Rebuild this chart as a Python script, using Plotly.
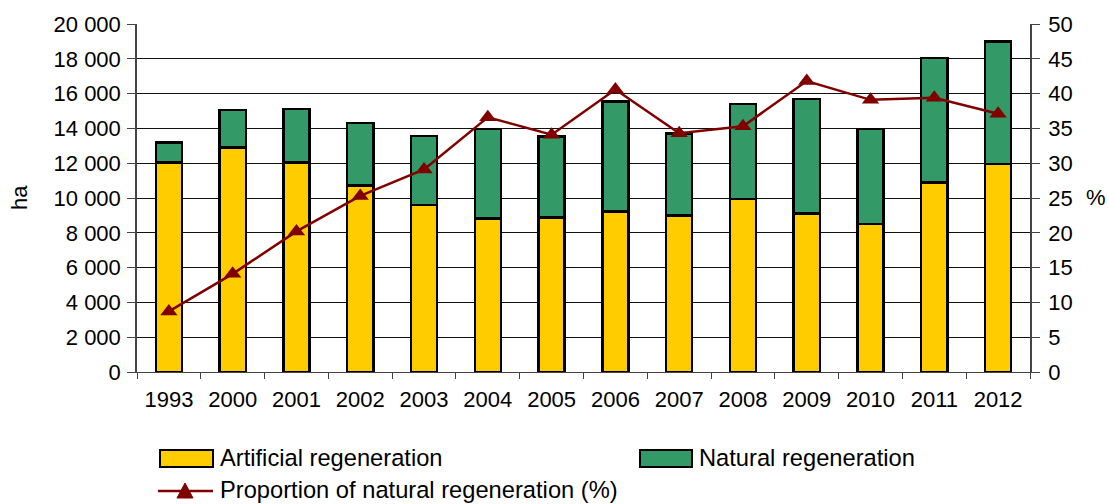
import plotly.graph_objects as go

# Regeneration area by year (ha) and share of natural regeneration (%)
years = ["1993", "2000", "2001", "2002", "2003", "2004", "2005",
         "2006", "2007", "2008", "2009", "2010", "2011", "2012"]
artificial = [12030, 12910, 12030, 10710, 9600, 8830, 8890,
              9220, 8990, 9960, 9120, 8510, 10900, 11940]
natural = [1170, 2150, 3070, 3600, 3960, 5120, 4640,
           6320, 4710, 5440, 6570, 5460, 7130, 7060]
natural_share = [8.7, 14.1, 20.2, 25.3, 29.1, 36.6, 34.1,
                 40.6, 34.3, 35.3, 41.8, 39.1, 39.4, 37.1]

ha_ticks = list(range(0, 20001, 2000))
pct_ticks = list(range(0, 51, 5))

YELLOW = "#FFCC00"
GREEN = "#339966"
MAROON = "#800000"
FONT = "Liberation Sans, Arial, sans-serif"
TICK_SIZE = 22
LEGEND_SIZE = 23.7

fig = go.Figure()
fig.add_trace(go.Bar(
    x=years, y=artificial, name="Artificial regeneration",
    marker=dict(color=YELLOW, line=dict(color="black", width=2.4)),
    width=0.41, yaxis="y",
))
fig.add_trace(go.Bar(
    x=years, y=natural, name="Natural regeneration",
    marker=dict(color=GREEN, line=dict(color="black", width=2.4)),
    width=0.41, yaxis="y",
))
fig.add_trace(go.Scatter(
    x=years, y=natural_share, name="Proportion of natural regeneration (%)",
    mode="lines+markers", yaxis="y2",
    line=dict(color=MAROON, width=2.5),
    marker=dict(symbol="triangle-up", size=15, color=MAROON),
))

fig.update_layout(
    width=1108, height=504,
    margin=dict(l=137, r=78, t=24, b=132),
    paper_bgcolor="white", plot_bgcolor="white",
    barmode="stack",
    showlegend=False,
    separators=", ",
    font=dict(family=FONT, size=TICK_SIZE, color="black"),
    xaxis=dict(
        type="category", range=[-0.5, len(years) - 0.5],
        tickson="boundaries", ticks="outside",
        ticklen=6, tickcolor="#444", tickwidth=1,
        showline=True, linecolor="#444", linewidth=1,
        showgrid=False, ticklabelstandoff=8,
        tickfont=dict(size=TICK_SIZE),
    ),
    yaxis=dict(
        range=[0, 20000], tickvals=ha_ticks, tickformat=",",
        ticks="outside", ticklen=8, tickcolor="#444",
        showline=True, linecolor="#444", linewidth=1.5,
        showgrid=True, gridcolor="#111", gridwidth=1,
        zeroline=False, tickfont=dict(size=TICK_SIZE),
        ticklabelstandoff=2,
    ),
    yaxis2=dict(
        range=[0, 50], tickvals=pct_ticks, overlaying="y", side="right",
        ticks="outside", ticklen=8, tickcolor="#444",
        showline=True, linecolor="#444", linewidth=1.5,
        showgrid=False, zeroline=False, tickfont=dict(size=TICK_SIZE),
        ticklabelstandoff=4,
    ),
)


def px_x(px):
    return (px - 137) / 893


def px_y(py):
    return (372 - py) / 348


# Axis titles
fig.add_annotation(text="ha", xref="paper", yref="paper", x=px_x(19), y=0.5,
                   textangle=-90, showarrow=False, font=dict(size=TICK_SIZE),
                   xanchor="center", yanchor="middle")
fig.add_annotation(text="%", xref="paper", yref="paper", x=px_x(1096),
                   y=px_y(197), showarrow=False, font=dict(size=TICK_SIZE),
                   xanchor="center", yanchor="middle")

# Legend drawn below the plot area
for x0, x1, color in [(160, 213, YELLOW), (640, 692, GREEN)]:
    fig.add_shape(type="rect", xref="paper", yref="paper",
                  x0=px_x(x0), x1=px_x(x1), y0=px_y(467), y1=px_y(450),
                  fillcolor=color, line=dict(color="black", width=2))

fig.add_shape(type="line", xref="paper", yref="paper",
              x0=px_x(158), x1=px_x(213), y0=px_y(491), y1=px_y(491),
              line=dict(color=MAROON, width=2.5))
fig.add_shape(type="path", xref="paper", yref="paper",
              path="M {:.4f},{:.4f} L {:.4f},{:.4f} L {:.4f},{:.4f} Z".format(
                  px_x(177), px_y(498), px_x(193), px_y(498),
                  px_x(185), px_y(483)),
              fillcolor=MAROON, line=dict(color=MAROON, width=1))

legend_labels = [
    ("Artificial regeneration", 218, 458),
    ("Natural regeneration", 697, 458),
    ("Proportion of natural regeneration (%)", 218, 490),
]
for text, lx, ly in legend_labels:
    fig.add_annotation(text=text, xref="paper", yref="paper",
                       x=px_x(lx), y=px_y(ly), showarrow=False,
                       xanchor="left", yanchor="middle",
                       font=dict(size=LEGEND_SIZE))

fig.write_html("out.html")
